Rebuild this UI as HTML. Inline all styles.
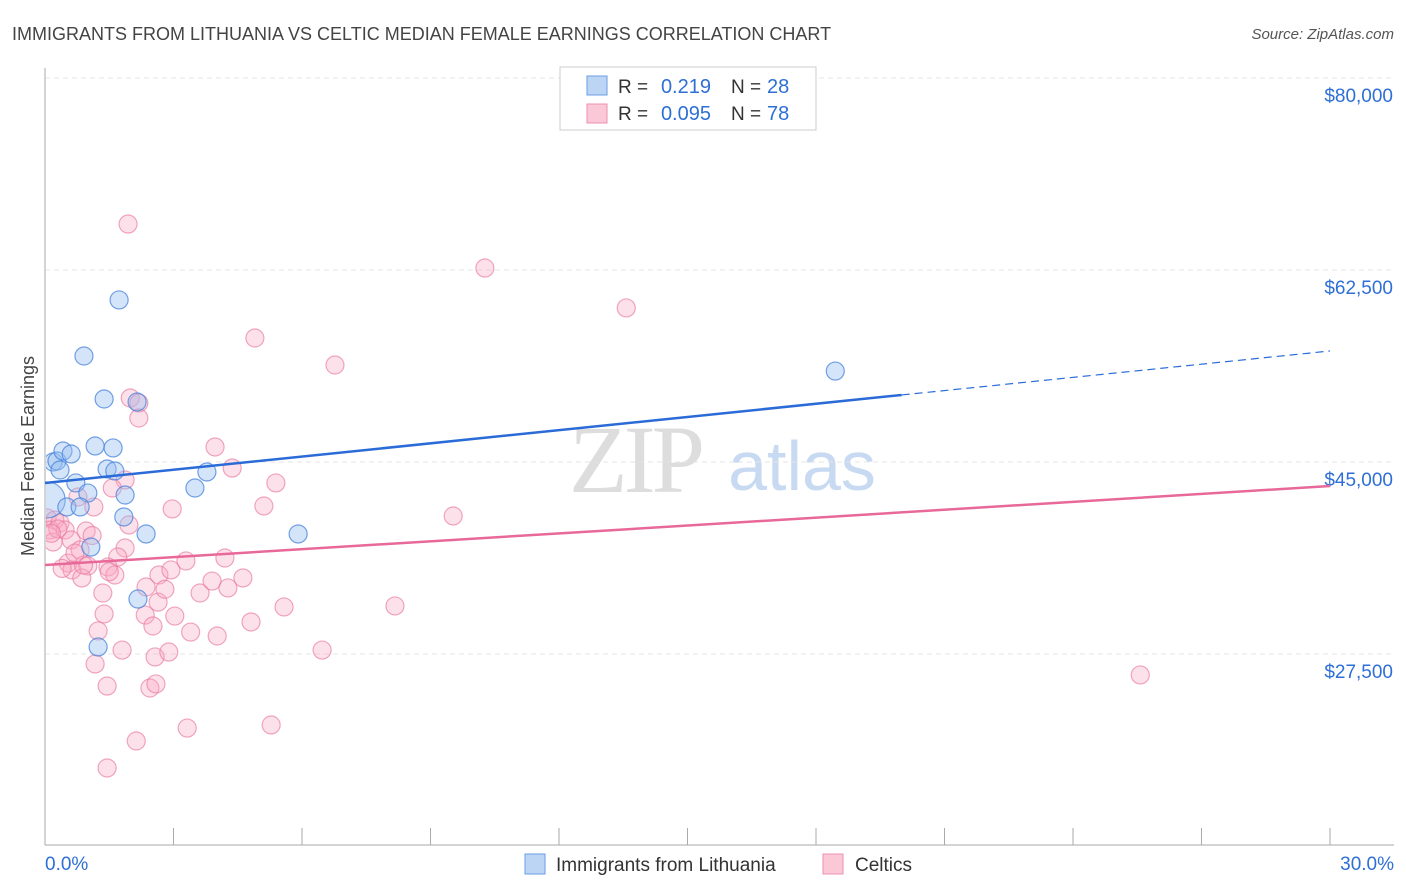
<!DOCTYPE html>
<html><head><meta charset="utf-8">
<style>
body{margin:0;background:#fff;font-family:"Liberation Sans",sans-serif;}
#wrap{position:relative;width:1406px;height:892px;overflow:hidden;}
</style></head>
<body>
<div id="wrap">
<svg id="chart" width="1406" height="892" xmlns="http://www.w3.org/2000/svg">
<defs><clipPath id="plotclip"><rect x="46" y="60" width="1360" height="785"/></clipPath></defs>
<text x="12" y="40" font-size="18" fill="#444" font-family="Liberation Sans, sans-serif">IMMIGRANTS FROM LITHUANIA VS CELTIC MEDIAN FEMALE EARNINGS CORRELATION CHART</text>
<text x="1394" y="39" font-size="15" fill="#555" font-style="italic" text-anchor="end" font-family="Liberation Sans, sans-serif">Source: ZipAtlas.com</text>
<text x="34" y="456" font-size="18" fill="#444" text-anchor="middle" transform="rotate(-90 34 456)" font-family="Liberation Sans, sans-serif">Median Female Earnings</text>
<g>
<text x="635" y="492" font-size="96" fill="#ddd" text-anchor="middle" font-family="Liberation Serif, serif" letter-spacing="-4">ZIP</text>
<text x="802" y="490" font-size="70" fill="#c8daf2" text-anchor="middle" font-family="Liberation Sans, sans-serif">atlas</text>
</g>
<g id="grid"></g>
<g id="axes"></g>
<g id="pinkPts" clip-path="url(#plotclip)"></g>
<g id="bluePts" clip-path="url(#plotclip)"></g>
<g id="lines"></g>
<g>
<rect x="560" y="67" width="256" height="63" fill="#fff" stroke="#ccc"/>
<rect x="587" y="76" width="20" height="19" fill="#bcd5f5" stroke="#6a9ee3"/>
<rect x="587" y="104" width="20" height="19" fill="#fbc8d8" stroke="#ec8fae"/>
<text x="618" y="93" font-size="19" fill="#333">R =</text>
<text x="711" y="93" font-size="20" fill="#2e6fd6" text-anchor="end">0.219</text>
<text x="731" y="93" font-size="19" fill="#333">N =</text>
<text x="767" y="93" font-size="20" fill="#2e6fd6">28</text>
<text x="618" y="120" font-size="19" fill="#333">R =</text>
<text x="711" y="120" font-size="20" fill="#2e6fd6" text-anchor="end">0.095</text>
<text x="731" y="120" font-size="19" fill="#333">N =</text>
<text x="767" y="120" font-size="20" fill="#2e6fd6">78</text>
</g>
<g>
<rect x="525" y="854" width="20" height="20" fill="#bcd5f5" stroke="#6a9ee3"/>
<text x="556" y="871" font-size="19" fill="#333">Immigrants from Lithuania</text>
<rect x="823" y="854" width="20" height="20" fill="#fbc8d8" stroke="#ec8fae"/>
<text x="855" y="871" font-size="19" fill="#333">Celtics</text>
</g>
</svg>
</div>
<script>
const yTicks=[27500,45000,62500,80000];
const yTickLabels=["$27,500","$45,000","$62,500","$80,000"];
const xTickLabels=["0.0%","30.0%"];
const blueX=[0.05,0.19,0.28,0.42,0.61,0.91,0.72,0.51,1.0,0.82,1.17,1.38,1.59,1.45,1.63,1.73,1.87,1.84,2.15,2.36,1.07,2.17,1.24,3.5,3.78,5.91,18.45,0.35];
const blueY=[41540,45000,45090,46000,45730,54660,43090,40900,42170,40900,46460,50740,46280,44360,44180,59770,41990,39990,50470,38440,37250,32510,28140,42630,44090,38440,53290,44270];
const pinkX=[1.94,10.27,13.57,4.9,6.77,1.99,2.19,2.19,3.97,4.37,5.39,5.11,9.53,1.87,1.57,0.77,1.14,2.97,0.05,0.23,0.12,0.35,0.47,0.19,0.61,0.96,0.82,1.96,1.87,1.70,0.54,0.63,1.0,0.86,1.47,1.63,1.35,1.38,1.24,1.17,1.45,1.80,2.36,2.66,2.94,3.29,2.64,2.34,3.03,2.52,2.57,2.89,2.45,2.59,2.13,1.45,3.32,3.62,3.90,4.2,4.27,4.62,4.02,4.81,5.58,5.28,6.47,8.17,25.57,0.3,0.9,0.4,1.1,0.7,0.15,2.8,3.4,1.5];
const pinkY=[66690,62680,59040,56300,53840,50830,50380,49010,46370,44450,43090,40990,40080,43360,42630,41810,40900,40720,39900,39710,38800,39440,38800,37710,37890,38710,36980,39260,37160,36340,35790,35160,35520,34430,35430,34700,33060,31150,29600,26590,24580,27860,33610,34700,35160,35980,32230,31050,30960,30050,27230,27680,24400,24770,19570,17110,20750,33060,34150,36250,33520,34430,29140,30420,31790,21030,27860,31880,25590,38900,35600,35300,38300,36700,38500,33400,29500,35000];
const blueLine=[43090,55120];
const pinkLine=[35610,42810];
const blueSolidEnd=20;

const NS="http://www.w3.org/2000/svg";
const X0=45,X1=1330;
function xs(v){return X0+(v/30)*(X1-X0);}
function ys(v){return 462-(v-45000)*192/17500;}
function mk(tag,attrs,parent){const e=document.createElementNS(NS,tag);for(const k in attrs)e.setAttribute(k,attrs[k]);parent.appendChild(e);return e;}
const grid=document.getElementById('grid'),axes=document.getElementById('axes');
yTicks.forEach((t,i)=>{
  const l=mk('line',{x1:X0,x2:1394,y1:ys(t),y2:ys(t),stroke:'#e4e4e4','stroke-dasharray':'5,4'},grid);
  
  
  const tx=mk('text',{x:1393,y:ys(t)+24,'font-size':19,fill:'#2e6fd6','text-anchor':'end'},axes);
  tx.textContent=yTickLabels[i];
  
  
});
const ax=mk('line',{x1:X0,x2:X0,y1:68,y2:845,stroke:'#aaa'},axes);


const bx=mk('line',{x1:X0,x2:1394,y1:845,y2:845,stroke:'#aaa'},axes);


for(let i=0;i<=10;i++){
  const t=mk('line',{x1:xs(i*3),x2:xs(i*3),y1:828,y2:845,stroke:'#aaa'},axes);
  
  
}
[[0,'start',45],[30,'end',1394]].forEach((d,i)=>{
  const t=mk('text',{x:d[2],y:870,'font-size':19,fill:'#2e6fd6','text-anchor':d[1]},axes);
  t.textContent=xTickLabels[i];
  
  
});
const pg=document.getElementById('pinkPts');
pinkX.forEach((x,i)=>{
  const c=mk('circle',{cx:xs(x),cy:ys(pinkY[i]),r:9,fill:'rgba(248,170,195,0.35)',stroke:'rgba(232,120,158,0.65)','stroke-width':1.2},pg);
  
  
});
const bg=document.getElementById('bluePts');
blueX.forEach((x,i)=>{
  const c=mk('circle',{cx:xs(x),cy:ys(blueY[i]),r:i===0?18:9,fill:'rgba(150,190,240,0.4)',stroke:'rgba(70,130,220,0.75)','stroke-width':1.2},bg);
  
  
});
const lg=document.getElementById('lines');
function lv(a,x){return a[0]+(a[1]-a[0])*x/30;}
const b1=mk('line',{x1:xs(0),y1:ys(lv(blueLine,0)),x2:xs(blueSolidEnd),y2:ys(lv(blueLine,blueSolidEnd)),stroke:'#2a6bd8','stroke-width':2.5},lg);


const b2=mk('line',{x1:xs(blueSolidEnd),y1:ys(lv(blueLine,blueSolidEnd)),x2:xs(30),y2:ys(lv(blueLine,30)),stroke:'#2a6bd8','stroke-width':1.2,'stroke-dasharray':'8,5'},lg);


const p1=mk('line',{x1:xs(0),y1:ys(lv(pinkLine,0)),x2:xs(30),y2:ys(lv(pinkLine,30)),stroke:'#e8689a','stroke-width':2.5},lg);


</script>
</body></html>
